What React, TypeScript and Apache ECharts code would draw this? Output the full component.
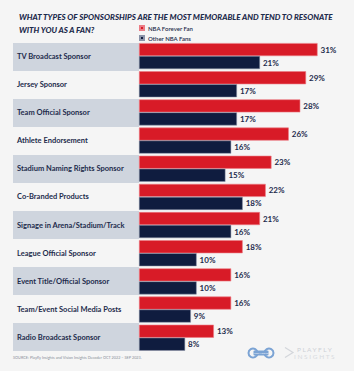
import React, { useEffect, useRef } from "react";
import * as echarts from "echarts";

const categories = [
  "TV Broadcast Sponsor",
  "Jersey Sponsor",
  "Team Official Sponsor",
  "Athlete Endorsement",
  "Stadium Naming Rights Sponsor",
  "Co-Branded Products",
  "Signage in Arena/Stadium/Track",
  "League Official Sponsor",
  "Event Title/Official Sponsor",
  "Team/Event Social Media Posts",
  "Radio Broadcast Sponsor",
];
const foreverFan = [31, 29, 28, 26, 23, 22, 21, 18, 16, 16, 13];
const otherFans = [21, 17, 17, 16, 15, 18, 16, 10, 10, 9, 8];
const seriesNames = ["NBA Forever Fan", "Other NBA Fans"];

const NAVY = "#0f1c3f";
const RED = "#d81b27";
const TEXT = "#1d2b4c";
const FONT = "Lato, 'Noto Sans', sans-serif";

export default function App() {
  const ref = useRef<HTMLDivElement>(null);
  useEffect(() => {
    if (!ref.current) return;
    const chart = echarts.init(ref.current, undefined, { renderer: "svg" });
    chart.setOption({
      animation: false,
      backgroundColor: "#f5f5f5",
      textStyle: { fontFamily: FONT },
      title: {
        text: "WHAT TYPES OF SPONSORSHIPS ARE THE MOST MEMORABLE AND TEND TO RESONATE\nWITH YOU AS A FAN?",
        left: 14,
        top: 6,
        textStyle: {
          fontFamily: FONT,
          fontSize: 8,
          fontWeight: 900,
          fontStyle: "italic",
          color: TEXT,
          lineHeight: 12.5,
        },
      },
      legend: {
        orient: "vertical",
        left: 139,
        top: 25,
        padding: 0,
        itemWidth: 4,
        itemHeight: 4,
        itemGap: 4,
        icon: "rect",
        data: seriesNames,
        textStyle: { fontFamily: FONT, fontSize: 6, fontWeight: 600, color: TEXT, padding: [0, 0, 0, -1] },
      },
      grid: [
        { left: 139, right: 13.4, top: 42, height: 309.8, containLabel: false },
        { left: 13, width: 126, top: 43, height: 308, containLabel: false },
      ],
      xAxis: [
        { type: "value", gridIndex: 0, min: 0, max: 35, show: false },
        { type: "value", gridIndex: 1, min: 0, max: 1, show: false },
      ],
      yAxis: [
        {
          type: "category",
          gridIndex: 0,
          inverse: true,
          data: categories,
          axisLine: { show: false },
          axisTick: { show: false },
          splitLine: { show: false },
          axisLabel: {
            align: "left",
            margin: 122,
            fontFamily: FONT,
            fontSize: 7.5,
            fontWeight: "bold",
            color: TEXT,
          },
        },
        {
          type: "category",
          gridIndex: 1,
          inverse: true,
          data: categories,
          axisLine: { show: false },
          axisTick: { show: false },
          axisLabel: { show: false },
          splitLine: { show: false },
          splitArea: {
            show: true,
            areaStyle: { color: ["#cfd5de", "rgba(0,0,0,0)"] },
          },
        },
      ],
      series: [
        {
          name: seriesNames[0],
          type: "bar",
          xAxisIndex: 0,
          yAxisIndex: 0,
          data: foreverFan,
          barWidth: 13,
          barGap: "0%",
          itemStyle: { color: RED, borderColor: "#ec7c85", borderWidth: 0.6 },
          label: {
            show: true,
            position: "right",
            distance: 3,
            formatter: "{c}%",
            fontFamily: FONT,
            fontSize: 8,
            fontWeight: "bold",
            color: TEXT,
          },
        },
        {
          name: seriesNames[1],
          type: "bar",
          xAxisIndex: 0,
          yAxisIndex: 0,
          data: otherFans,
          barWidth: 13,
          barGap: "0%",
          itemStyle: { color: NAVY, borderColor: "#8a93a8", borderWidth: 0.5 },
          label: {
            show: true,
            position: "right",
            distance: 3,
            formatter: "{c}%",
            fontFamily: FONT,
            fontSize: 8,
            fontWeight: "bold",
            color: TEXT,
          },
        },
      ],
      graphic: [
        {
          type: "text",
          left: 13,
          top: 355,
          style: {
            text: "SOURCE: Playfly Insights and Vision Insights Decoder OCT 2022 – SEP 2023.",
            fontSize: 3.8,
            fill: "#8a8f99",
            fontFamily: FONT,
          },
        },
        {
          type: "group",
          left: 246,
          top: 346,
          children: [
            { type: "circle", shape: { cx: 5.5, cy: 5.5, r: 4.5 }, style: { fill: "none", stroke: "#7ba3d4", lineWidth: 2 } },
            { type: "circle", shape: { cx: 21.5, cy: 5.5, r: 4.5 }, style: { fill: "none", stroke: "#7ba3d4", lineWidth: 2 } },
            { type: "rect", shape: { x: 6, y: 3, width: 15, height: 5, r: 1 }, style: { fill: "#7ba3d4" } },
            {
              type: "text",
              x: 13.5,
              y: 5.5,
              style: { text: "VISION INSIGHTS", fontSize: 1.8, fill: "#ffffff", align: "center", verticalAlign: "middle", fontFamily: FONT },
            },
          ],
        },
        {
          type: "polyline",
          shape: { points: [[285, 347.5], [293, 352.5], [285, 357.5]] },
          style: { fill: "none", stroke: "#d3d6db", lineWidth: 1.2 },
        },
        {
          type: "text",
          left: 297,
          top: 346,
          style: { text: "P L A Y F L Y", fontSize: 6.5, fill: "#cdd0d6", fontFamily: FONT },
        },
        {
          type: "text",
          left: 294,
          top: 353,
          style: { text: "I N S I G H T S", fontSize: 6.5, fill: "#d8dbe0", fontFamily: FONT },
        },
      ],
    });
    return () => chart.dispose();
  }, []);
  return (
    <div
      ref={ref}
      style={{ position: "absolute", left: 0, top: 0, width: 354, height: 371 }}
    />
  );
}
